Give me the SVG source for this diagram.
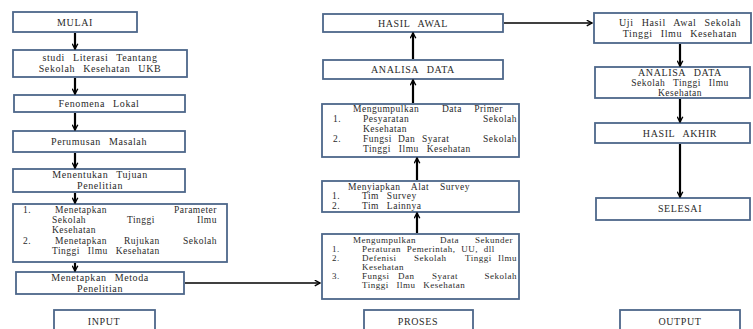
<svg xmlns="http://www.w3.org/2000/svg" width="753" height="329" viewBox="0 0 753 329">
<defs>
<marker id="ah" viewBox="0 0 10 10" refX="8.5" refY="5" markerWidth="7" markerHeight="7" markerUnits="userSpaceOnUse" orient="auto">
<path d="M1,1 L8.5,5 L1,9" fill="none" stroke="#000" stroke-width="2"/>
</marker>
<style>
.b{fill:#fff;stroke:#4d678a;stroke-width:1.8}
text{font-family:"Liberation Serif","Times New Roman",serif;font-size:10px;fill:#2a2a2a;letter-spacing:0.6px;word-spacing:5px}
.m{font-size:9.5px;letter-spacing:0.5px}
.s{font-size:9px;letter-spacing:0.5px}
.c{text-anchor:middle}
.e{text-anchor:end}
.v{stroke:#000;stroke-width:2.2;fill:none;marker-end:url(#ah)}
.h{stroke:#000;stroke-width:1.3;fill:none;marker-end:url(#ah)}
</style>
</defs>
<rect width="753" height="329" fill="#fff"/>

<g id="mulai"><rect class="b" x="13" y="12" width="124" height="20"/><text class="c" x="75" y="25.5">MULAI</text></g>
<g id="studi"><rect class="b" x="13" y="50" width="174" height="27"/><text class="c" x="100" y="60.5">studi Literasi Teantang</text><text class="c" x="100" y="71.5">Sekolah Kesehatan UKB</text></g>
<g id="fenomena"><rect class="b" x="14" y="95" width="171" height="17"/><text class="c" x="99" y="106.5">Fenomena Lokal</text></g>
<g id="perumusan"><rect class="b" x="13" y="131" width="172" height="21"/><text class="c" x="99" y="144.5">Perumusan Masalah</text></g>
<g id="tujuan"><rect class="b" x="13" y="169" width="172" height="23"/><text class="c" x="100" y="178">Menentukan Tujuan</text><text class="c" x="100" y="189">Penelitian</text></g>
<g id="parameter"><rect class="b" x="13" y="204" width="214" height="58"/>
<text class="m" x="23" y="213">1.</text><text class="m" x="55" y="213">Menetapkan</text><text class="m e" x="217" y="213">Parameter</text>
<text class="m" x="52" y="223">Sekolah</text><text class="m" x="127" y="223">Tinggi</text><text class="m e" x="217" y="223">Ilmu</text>
<text class="m" x="52" y="233">Kesehatan</text>
<text class="m" x="23" y="243.5">2.</text><text class="m" x="55" y="243.5">Menetapkan</text><text class="m" x="124" y="243.5">Rujukan</text><text class="m e" x="217" y="243.5">Sekolah</text>
<text class="m" x="52" y="254">Tinggi Ilmu Kesehatan</text></g>
<g id="metoda"><rect class="b" x="16" y="272" width="168" height="22"/><text class="c" x="100" y="281">Menetapkan Metoda</text><text class="c" x="100" y="291.5">Penelitian</text></g>
<g id="input"><rect class="b" x="54" y="310" width="101" height="25"/><text class="c" x="104" y="325">INPUT</text></g>

<g id="hasilawal"><rect class="b" x="323" y="14" width="180" height="18"/><text class="c" x="413" y="26.5">HASIL AWAL</text></g>
<g id="analisa1"><rect class="b" x="323" y="60" width="180" height="19"/><text class="c" x="413" y="73">ANALISA DATA</text></g>
<g id="primer"><rect class="b" x="322" y="104" width="197" height="53"/>
<text class="m" x="353" y="112">Mengumpulkan</text><text class="m" x="442" y="112">Data</text><text class="m e" x="503" y="112">Primer</text>
<text class="m" x="333" y="122">1.</text><text class="m" x="363" y="122">Pesyaratan</text><text class="m e" x="517" y="122">Sekolah</text>
<text class="m" x="363" y="132">Kesehatan</text>
<text class="m" x="333" y="142">2.</text><text class="m" x="363" y="142">Fungsi</text><text class="m" x="398" y="142">Dan</text><text class="m" x="422" y="142">Syarat</text><text class="m e" x="517" y="142">Sekolah</text>
<text class="m" x="363" y="152">Tinggi Ilmu Kesehatan</text></g>
<g id="survey"><rect class="b" x="322" y="181" width="197" height="31"/>
<text class="m" x="348" y="189.5" style="word-spacing:8px">Menyiapkan Alat Survey</text>
<text class="m" x="332" y="199">1.</text><text class="m" x="362" y="199">Tim Survey</text>
<text class="m" x="332" y="208.5">2.</text><text class="m" x="362" y="208.5">Tim Lainnya</text></g>
<g id="sekunder"><rect class="b" x="322" y="234" width="197" height="65"/>
<text class="s" x="353" y="242.5">Mengumpulkan</text><text class="s" x="440" y="242.5">Data</text><text class="s" x="475" y="242.5">Sekunder</text>
<text class="s" x="332" y="251.5">1.</text><text class="s" x="362" y="251.5" style="word-spacing:3px">Peraturan Pemerintah, UU, dll</text>
<text class="s" x="332" y="260.5">2.</text><text class="s" x="362" y="260.5">Defenisi</text><text class="s" x="414" y="260.5">Sekolah</text><text class="s" x="465" y="260.5">Tinggi</text><text class="s e" x="517" y="260.5">Ilmu</text>
<text class="s" x="362" y="269.5">Kesehatan</text>
<text class="s" x="332" y="278.5">3.</text><text class="s" x="362" y="278.5">Fungsi</text><text class="s" x="398" y="278.5">Dan</text><text class="s" x="432" y="278.5">Syarat</text><text class="s e" x="517" y="278.5">Sekolah</text>
<text class="s" x="362" y="287.5">Tinggi Ilmu Kesehatan</text></g>
<g id="proses"><rect class="b" x="364" y="310" width="109" height="25"/><text class="c" x="418" y="325">PROSES</text></g>

<g id="uji"><rect class="b" x="594" y="13" width="157" height="30"/><text class="c" x="680" y="25.5">Uji Hasil Awal Sekolah</text><text class="c" x="680" y="36.5">Tinggi Ilmu Kesehatan</text></g>
<g id="analisa2"><rect class="b" x="595" y="67" width="155" height="31"/><text class="c" x="680" y="75.5">ANALISA DATA</text><text class="m c" x="680" y="85.8">Sekolah Tinggi Ilmu</text><text class="m c" x="680" y="95.8">Kesehatan</text></g>
<g id="hasilakhir"><rect class="b" x="595" y="123" width="155" height="20"/><text class="c" x="680" y="136.5">HASIL AKHIR</text></g>
<g id="selesai"><rect class="b" x="596" y="198" width="154" height="22"/><text class="c" x="680" y="212">SELESAI</text></g>
<g id="output"><rect class="b" x="620" y="310" width="120" height="25"/><text class="c" x="680" y="325">OUTPUT</text></g>

<g id="connectors">
<line class="v" x1="75" y1="33" x2="75" y2="49"/>
<line class="v" x1="75" y1="78" x2="75" y2="94"/>
<line class="v" x1="75" y1="113" x2="75" y2="130"/>
<line class="v" x1="75" y1="153" x2="75" y2="168"/>
<line class="v" x1="75" y1="193" x2="75" y2="203"/>
<line class="v" x1="75" y1="263" x2="75" y2="271"/>
<line class="h" x1="185" y1="283" x2="320" y2="283"/>
<line class="v" x1="417" y1="233" x2="417" y2="213"/>
<line class="v" x1="417" y1="180" x2="417" y2="158"/>
<line class="v" x1="413" y1="103" x2="413" y2="80"/>
<line class="v" x1="413" y1="59" x2="413" y2="33"/>
<line class="h" x1="504" y1="23" x2="592" y2="23"/>
<line class="v" x1="680" y1="44" x2="680" y2="66"/>
<line class="v" x1="680" y1="99" x2="680" y2="122"/>
<line class="v" x1="680" y1="144" x2="680" y2="197"/>
</g>
</svg>
